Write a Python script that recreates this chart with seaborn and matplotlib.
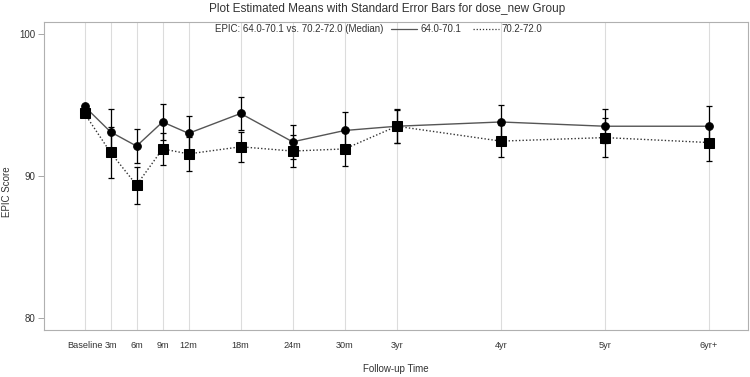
import numpy as np
import pandas as pd
import matplotlib
matplotlib.use("Agg")
import matplotlib.pyplot as plt
import seaborn as sns
from matplotlib.lines import Line2D

sns.set_style("white")
plt.rcParams["font.family"] = ["Liberation Sans", "DejaVu Sans"]

# follow-up time in months and its labels
months = [0, 3, 6, 9, 12, 18, 24, 30, 36, 48, 60, 72]
time_labels = ["Baseline", "3m", "6m", "9m", "12m", "18m", "24m", "30m", "3yr", "4yr", "5yr", "6yr+"]

# estimated means and standard errors per dose group (no bar at baseline)
low_mean = [94.9, 93.1, 92.1, 93.8, 93.0, 94.4, 92.4, 93.2, 93.5, 93.8, 93.5, 93.5]
low_se = [np.nan, 1.6, 1.2, 1.25, 1.2, 1.15, 1.2, 1.3, 1.15, 1.2, 1.2, 1.45]
high_mean = [94.4, 91.65, 89.35, 91.9, 91.55, 92.05, 91.75, 91.9, 93.5, 92.45, 92.7, 92.35]
high_se = [np.nan, 1.8, 1.3, 1.1, 1.2, 1.05, 1.15, 1.2, 1.2, 1.15, 1.4, 1.3]

low_name = "64.0-70.1"
high_name = "70.2-72.0"

df = pd.concat([
    pd.DataFrame({"Month": months, "Score": low_mean, "SE": low_se, "Group": low_name}),
    pd.DataFrame({"Month": months, "Score": high_mean, "SE": high_se, "Group": high_name}),
])

fig = plt.figure(figsize=(7.5, 3.77), dpi=100)
ax = fig.add_axes([0.0587, 0.1247, 0.9386, 0.8169])

for m in months:
    ax.axvline(m, color="#dcdcdc", lw=0.8, zorder=0)

low = df[df["Group"] == low_name]
high = df[df["Group"] == high_name]

# error bars
ax.errorbar(low["Month"], low["Score"], yerr=low["SE"], fmt="none",
            ecolor="black", elinewidth=0.9, capsize=2.5, capthick=0.9, zorder=2)
ax.errorbar(high["Month"], high["Score"], yerr=high["SE"], fmt="none",
            ecolor="black", elinewidth=0.9, capsize=2.5, capthick=0.9, zorder=2)

sns.lineplot(data=low, x="Month", y="Score", ax=ax, color="#555555", lw=1,
             marker="o", markersize=5.5, markerfacecolor="black",
             markeredgecolor="black", zorder=3)
sns.lineplot(data=high, x="Month", y="Score", ax=ax, color="#333333", lw=1,
             linestyle=(0, (1, 1.5)), marker="s", markersize=6.5,
             markerfacecolor="black", markeredgecolor="black", zorder=3)

ax.set_xlim(-4.67, 76.5)
ax.set_ylim(79.13, 100.85)
ax.set_xticks(months)
ax.set_xticklabels(time_labels, fontsize=6.6, color="#333333")
ax.set_yticks([80, 90, 100])
ax.set_yticklabels(["80", "90", "100"], fontsize=7, color="#333333")
ax.tick_params(axis="x", length=0, pad=8)
ax.tick_params(axis="y", length=4, width=0.6, color="#999999", pad=2, left=True)

for s in ax.spines.values():
    s.set_color("#b0b0b0")
    s.set_linewidth(0.8)

ax.set_xlabel("Follow-up Time", fontsize=7, color="#333333", labelpad=10)
ax.set_ylabel("EPIC Score", fontsize=7, color="#333333")
ax.yaxis.set_label_coords(-0.046, 0.45)

fig.suptitle("Plot Estimated Means with Standard Error Bars for dose_new Group",
             x=0.516, y=0.977, va="center", fontsize=8.5, color="#333333")

fig.text(383 / 750, 1 - 29 / 377, "EPIC: 64.0-70.1 vs. 70.2-72.0 (Median)",
         fontsize=7, va="center", ha="right", color="#333333")
handles = [
    Line2D([], [], color="#555555", lw=0.9),
    Line2D([], [], color="#333333", lw=0.9, linestyle=(0, (1, 1.5))),
]
fig.legend(handles, [low_name, high_name], loc="center left",
           bbox_to_anchor=(391 / 750, 1 - 29 / 377), ncol=2, frameon=False,
           fontsize=7, handlelength=2.7, handletextpad=0.3, columnspacing=1.2,
           labelcolor="#333333", borderaxespad=0, borderpad=0)

fig.savefig("out.png", dpi=100)
